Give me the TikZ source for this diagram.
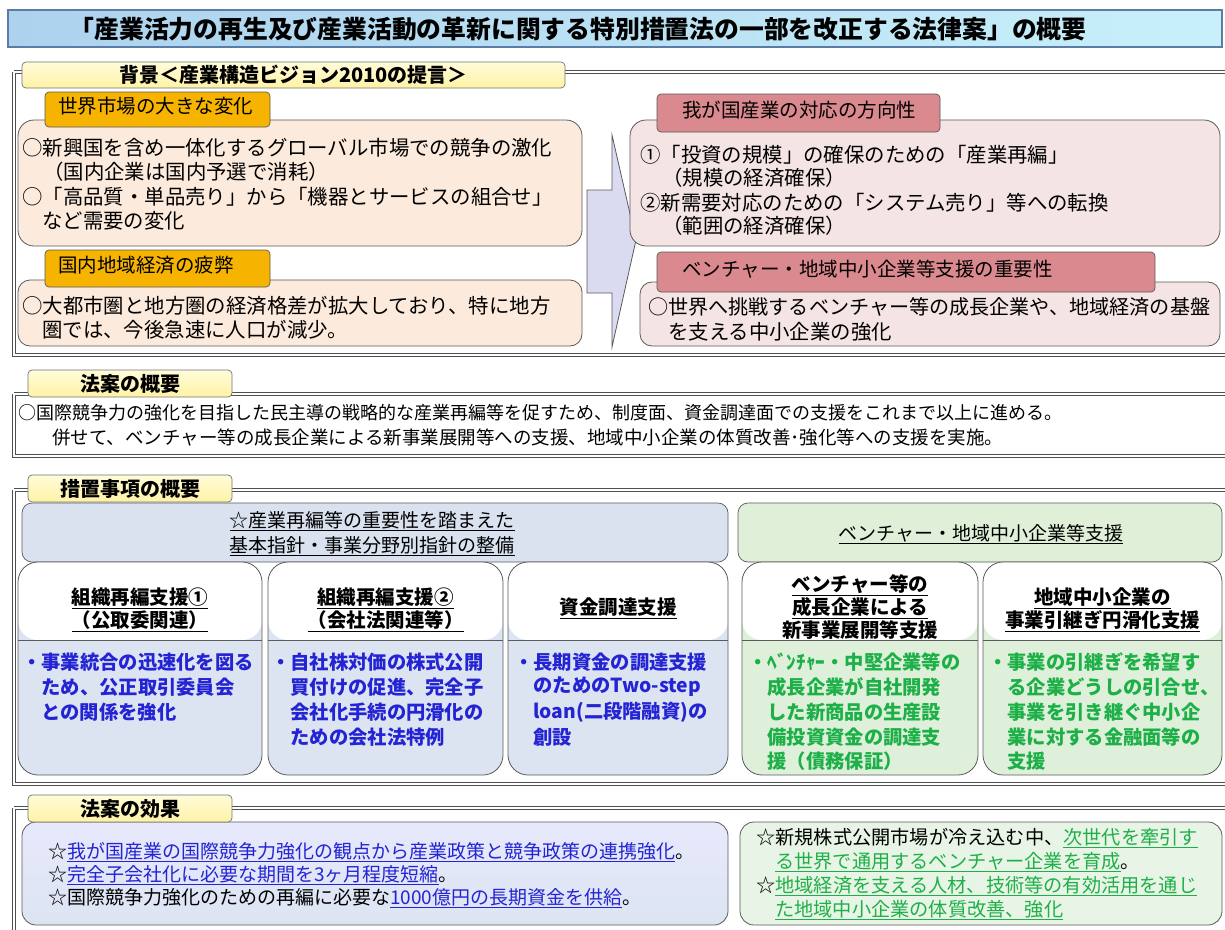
\documentclass[tikz,border=0pt]{standalone}
\usepackage{fontspec}
\setmainfont{Noto Sans CJK JP}
\definecolor{titleL}{RGB}{172,210,238}
\definecolor{titleR}{RGB}{200,240,250}
\definecolor{titleB}{RGB}{90,124,165}
\definecolor{tabT}{RGB}{255,252,218}
\definecolor{tabB}{RGB}{255,242,165}
\definecolor{lineC}{RGB}{80,80,80}
\definecolor{orangeH}{RGB}{246,180,0}
\definecolor{peach}{RGB}{252,234,220}
\definecolor{pinkH}{RGB}{218,137,142}
\definecolor{pinkC}{RGB}{244,228,228}
\definecolor{arrowC}{RGB}{218,218,240}
\definecolor{blueH}{RGB}{218,226,240}
\definecolor{greenH}{RGB}{224,240,216}
\definecolor{blueB}{RGB}{220,228,242}
\definecolor{greenB}{RGB}{222,240,218}
\definecolor{blueT}{RGB}{36,36,212}
\definecolor{greenT}{RGB}{30,176,72}
\definecolor{boxB}{RGB}{90,90,90}
\newcommand\secframe[2]{%
  \draw[lineC, line width=3.4pt] (14,#1) -- (1225,#1) (14,#1) -- (14,#2) -- (1225,#2);
  \draw[white, line width=1.1pt] (14,#1) -- (1225,#1) (14,#1) -- (14,#2) -- (1225,#2);}
\begin{document}
\begin{tikzpicture}[x=1pt,y=-1pt,
  tab/.style={draw=black!55, line width=0.7pt, rounded corners=4pt, top color=tabT, bottom color=tabB, inner sep=0pt,
    font=\bfseries\fontsize{20}{24}\selectfont},
  hdr/.style={draw=boxB, line width=0.7pt, rounded corners=4pt, inner sep=0pt},
  cbox/.style={draw=boxB, line width=0.8pt, rounded corners=16pt, inner sep=0pt},
  colbox/.style={draw=boxB, line width=0.8pt, rounded corners=20pt, inner sep=0pt,
    path picture={\fill[white] (path picture bounding box.north west) rectangle ([yshift=-78pt]path picture bounding box.north east);
                  \draw[boxB, line width=0.8pt] ([yshift=-78pt]path picture bounding box.north west) -- ([yshift=-78pt]path picture bounding box.north east);}},
  t/.style={inner sep=0pt, anchor=west, font=\fontsize{20.4}{24}\selectfont},
  th/.style={inner sep=0pt, anchor=west, font=\fontsize{19.5}{24}\selectfont},
  tc/.style={inner sep=0pt, anchor=center, font=\fontsize{19}{24}\selectfont},
  ct/.style={inner sep=0pt, anchor=center, font=\bfseries\fontsize{19.5}{24}\selectfont},
  cb/.style={inner sep=0pt, anchor=west, font=\bfseries\fontsize{19.3}{24}\selectfont},
  to/.style={inner sep=0pt, anchor=west, font=\fontsize{18}{22}\selectfont},
  te/.style={inner sep=0pt, anchor=west, font=\fontsize{19}{24}\selectfont},
  tg/.style={inner sep=0pt, anchor=west, font=\fontsize{19.2}{24}\selectfont}
]
\useasboundingbox (0,0) rectangle (1225,929);
\fill[white] (0,0) rectangle (1225,929);
\secframe{72}{355}
\secframe{394}{456}
\secframe{490}{784}
\secframe{808}{935}

% ---------- title ----------
\node[draw=titleB, line width=1.4pt, left color=titleL, right color=titleR, minimum width=1214pt, minimum height=37pt, inner sep=0pt] (title) at (615,28.5) {};
\node[inner sep=0pt, font=\bfseries\fontsize{24.8}{28}\selectfont] (titletext) at (578,29) {「産業活力の再生及び産業活動の革新に関する特別措置法の一部を改正する法律案」の概要};

% ---------- section 1 : background ----------
\node[tab, minimum width=543pt, minimum height=26pt] (tab1) at (293.5,75) {背景＜産業構造ビジョン2010の提言＞};

\node[cbox, fill=peach, minimum width=564pt, minimum height=126pt] (lc1) at (300,183) {};
\node[hdr, fill=orangeH, minimum width=225pt, minimum height=35pt] (oh1) at (157.5,109.5) {};
\node[th] (oh1t) at (58,106) {世界市場の大きな変化};
\node[t] (lc1a) at (22,148) {○新興国を含め一体化するグローバル市場での競争の激化};
\node[t] (lc1b) at (43,172) {（国内企業は国内予選で消耗）};
\node[t] (lc1c) at (22,197) {○「高品質・単品売り」から「機器とサービスの組合せ」};
\node[t] (lc1d) at (42,221) {など需要の変化};

\node[cbox, rounded corners=12pt, fill=peach, minimum width=564pt, minimum height=66pt] (lc2) at (300,313) {};
\node[hdr, fill=orangeH, minimum width=225pt, minimum height=37pt] (oh2) at (157.5,268.5) {};
\node[th] (oh2t) at (58,265) {国内地域経済の疲弊};
\node[t] (lc2a) at (22,306) {○大都市圏と地方圏の経済格差が拡大しており、特に地方};
\node[t] (lc2b) at (42,330) {圏では、今後急速に人口が減少。};

% big arrow
\draw[boxB, line width=0.8pt, fill=arrowC] (587,190) -- (612,190) -- (612,135) -- (636,240) -- (612,347) -- (612,293) -- (587,293) -- cycle;

\node[cbox, fill=pinkC, minimum width=590pt, minimum height=126pt] (rc1) at (925,183) {};
\node[hdr, fill=pinkH, minimum width=283pt, minimum height=38pt] (ph1) at (798.5,113) {};
\node[th] (ph1t) at (682,110) {我が国産業の対応の方向性};
\node[t] (rc1a) at (640,155) {①「投資の規模」の確保のための「産業再編」};
\node[t] (rc1b) at (662,178) {（規模の経済確保）};
\node[t] (rc1c) at (640,203) {②新需要対応のための「システム売り」等への転換};
\node[t] (rc1d) at (662,226) {（範囲の経済確保）};

\node[cbox, rounded corners=12pt, fill=pinkC, minimum width=580pt, minimum height=64pt] (rc2) at (930,314) {};
\node[hdr, fill=pinkH, minimum width=498pt, minimum height=40pt] (ph2) at (906,272) {};
\node[th] (ph2t) at (682,269) {ベンチャー・地域中小企業等支援の重要性};
\node[t, font=\fontsize{20.1}{24}\selectfont] (rc2a) at (648,307) {○世界へ挑戦するベンチャー等の成長企業や、地域経済の基盤};
\node[t] (rc2b) at (668,332) {を支える中小企業の強化};

% ---------- section 2 : outline ----------
\node[tab, minimum width=204pt, minimum height=27pt] (tab2) at (130,383.5) {法案の概要};
\node[to] (oa) at (18,413) {○国際競争力の強化を目指した民主導の戦略的な産業再編等を促すため、制度面、資金調達面での支援をこれまで以上に進める。};
\node[to, font=\fontsize{18.5}{22}\selectfont] (ob) at (52,438) {併せて、ベンチャー等の成長企業による新事業展開等への支援、地域中小企業の体質改善･強化等への支援を実施。};

% ---------- section 3 : measures ----------
\node[hdr, rounded corners=10pt, fill=blueH, minimum width=706pt, minimum height=59pt] (bh) at (375,532.5) {};
\node[hdr, rounded corners=10pt, fill=greenH, minimum width=484pt, minimum height=59pt] (gh) at (980,532.5) {};
\node[tab, minimum width=204pt, minimum height=27pt] (tab3) at (130,488.5) {措置事項の概要};
\node[tc] (bh1) at (372,521) {\underline{☆産業再編等の重要性を踏まえた}};
\node[tc] (bh2) at (372,546) {\underline{基本指針・事業分野別指針の整備}};
\node[tc] (gh1) at (981,534) {\underline{ベンチャー・地域中小企業等支援}};

\node[colbox, fill=blueB, minimum width=244pt, minimum height=213pt] (col1) at (140,668.5) {};
\node[colbox, fill=blueB, minimum width=235pt, minimum height=213pt] (col2) at (385.5,668.5) {};
\node[colbox, fill=blueB, minimum width=220pt, minimum height=213pt] (col3) at (618,668.5) {};
\node[colbox, fill=greenB, minimum width=236pt, minimum height=213pt] (col4) at (860,668.5) {};
\node[colbox, fill=greenB, minimum width=239pt, minimum height=213pt] (col5) at (1102.5,668.5) {};

\node[ct] (c1t1) at (140,598) {\underline{組織再編支援①}};
\node[ct] (c1t2) at (140,621) {\underline{（公取委関連）}};
\node[ct] (c2t1) at (385.5,598) {\underline{組織再編支援②}};
\node[ct] (c2t2) at (385.5,621) {\underline{（会社法関連等）}};
\node[ct] (c3t1) at (618,608) {\underline{資金調達支援}};
\node[ct] (c4t1) at (860,585) {\underline{ベンチャー等の}};
\node[ct] (c4t2) at (860,608) {\underline{成長企業による}};
\node[ct] (c4t3) at (860,630) {新事業展開等支援};
\node[ct] (c5t1) at (1102.5,598) {\underline{地域中小企業の}};
\node[ct] (c5t2) at (1102.5,621) {\underline{事業引継ぎ円滑化支援}};

\begin{scope}[every node/.append style={text=blueT}]
\node[cb] (c1a) at (22,662) {・事業統合の迅速化を図る};
\node[cb] (c1b) at (41.3,687) {ため、公正取引委員会};
\node[cb] (c1c) at (41.3,712) {との関係を強化};
\node[cb] (c2a) at (271,662) {・自社株対価の株式公開};
\node[cb] (c2b) at (290.3,687) {買付けの促進、完全子};
\node[cb] (c2c) at (290.3,712) {会社化手続の円滑化の};
\node[cb] (c2d) at (290.3,737) {ための会社法特例};
\node[cb] (c3a) at (514,662) {・長期資金の調達支援};
\node[cb] (c3b) at (533.3,687) {のためのTwo-step};
\node[cb] (c3c) at (533.3,712) {loan(二段階融資)の};
\node[cb] (c3d) at (533.3,737) {創設};
\end{scope}
\begin{scope}[every node/.append style={text=greenT}]
\node[cb] (c4a) at (748,662) {・ﾍﾞﾝﾁｬｰ・中堅企業等の};
\node[cb] (c4b) at (767.3,687) {成長企業が自社開発};
\node[cb] (c4c) at (767.3,712) {した新商品の生産設};
\node[cb] (c4d) at (767.3,737) {備投資資金の調達支};
\node[cb] (c4e) at (767.3,761) {援（債務保証）};
\node[cb] (c5a) at (988,662) {・事業の引継ぎを希望す};
\node[cb] (c5b) at (1007.3,687) {る企業どうしの引合せ、};
\node[cb] (c5c) at (1007.3,712) {事業を引き継ぐ中小企};
\node[cb] (c5d) at (1007.3,737) {業に対する金融面等の};
\node[cb] (c5e) at (1007.3,761) {支援};
\end{scope}

% ---------- section 4 : effects ----------
\node[cbox, rounded corners=14pt, top color=blueB!80!blue!30!white, bottom color=blueB, minimum width=706pt, minimum height=103pt] (eb) at (375,873.5) {};
\node[cbox, rounded corners=14pt, fill=greenB!70!white, minimum width=482pt, minimum height=103pt] (eg) at (981,873.5) {};
\node[tab, minimum width=204pt, minimum height=27pt] (tab4) at (130,808.5) {法案の効果};

\node[te] (e1) at (48,852) {☆\textcolor{blueT}{\underline{我が国産業の国際競争力強化の観点から産業政策と競争政策の連携強化}}。};
\node[te] (e2) at (48,875) {☆\textcolor{blueT}{\underline{完全子会社化に必要な期間を3ヶ月程度短縮}}。};
\node[te] (e3) at (48,898) {☆国際競争力強化のための再編に必要な\textcolor{blueT}{\underline{1000億円の長期資金を供給}}。};

\node[tg] (g1) at (756,838) {☆新規株式公開市場が冷え込む中、\textcolor{greenT}{\underline{次世代を牽引す}}};
\node[tg] (g2) at (775,862) {\textcolor{greenT}{\underline{る世界で通用するベンチャー企業を育成}}。};
\node[tg] (g3) at (756,886) {☆\textcolor{greenT}{\underline{地域経済を支える人材、技術等の有効活用を通じ}}};
\node[tg] (g4) at (775,910) {\textcolor{greenT}{\underline{た地域中小企業の体質改善、強化}}};
\end{tikzpicture}
\end{document}
